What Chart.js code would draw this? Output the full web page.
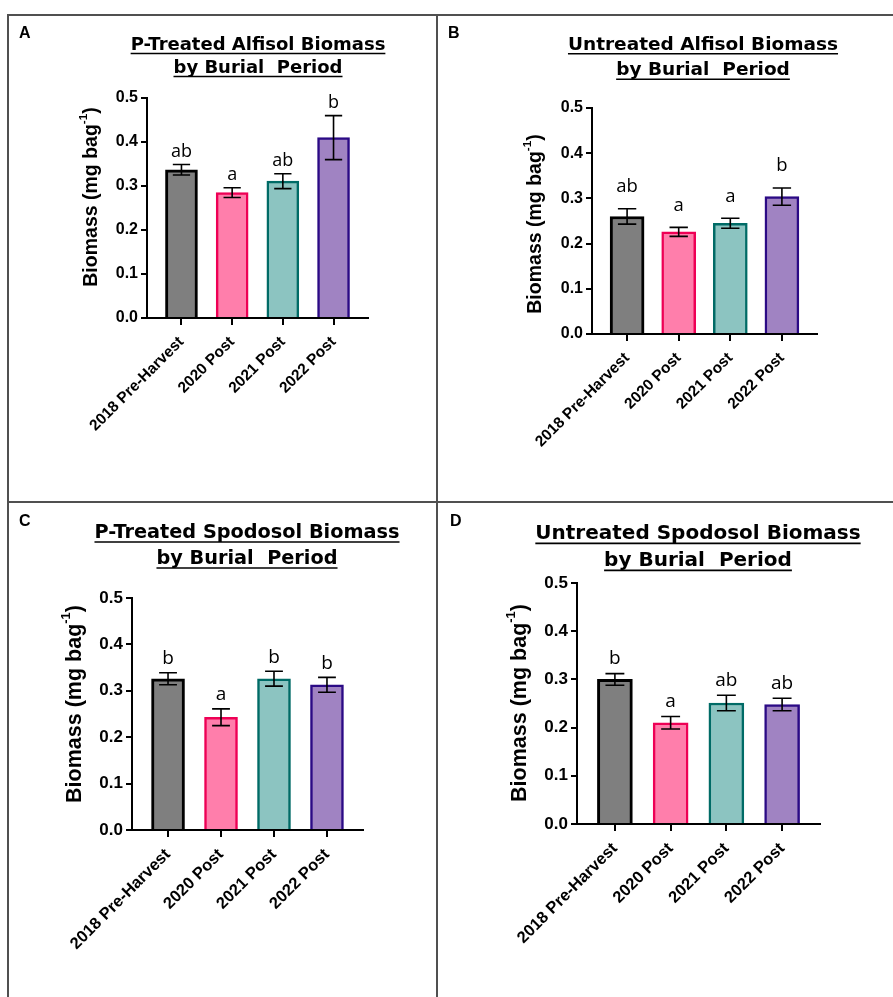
<!DOCTYPE html>
<html><head><meta charset="utf-8">
<script src="https://cdn.jsdelivr.net/npm/chart.js@4.4.0/dist/chart.umd.min.js"></script>
<style>
body{margin:0;background:#fff;width:893px;height:997px;position:relative;overflow:hidden}
canvas{position:absolute}
.ln{position:absolute;background:#505050}
</style></head><body>
<div class="ln" style="left:7px;top:14px;width:886px;height:2px"></div>
<div class="ln" style="left:7px;top:501px;width:886px;height:2px"></div>
<div class="ln" style="left:7px;top:14px;width:2px;height:983px"></div>
<div class="ln" style="left:436px;top:14px;width:2px;height:983px"></div>
<canvas id="cA"></canvas>
<canvas id="cB"></canvas>
<canvas id="cC"></canvas>
<canvas id="cD"></canvas>
<script>
// ---- data ----
const categories = ['2018 Pre-Harvest', '2020 Post', '2021 Post', '2022 Post'];
const yTicks = [0, 0.1, 0.2, 0.3, 0.4, 0.5];

const titleA = ['P-Treated Alfisol Biomass', 'by Burial  Period'];
const meanA = [0.337, 0.285, 0.311, 0.410];
const semA = [0.012, 0.011, 0.017, 0.050];
const lettersA = ['ab', 'a', 'ab', 'b'];

const titleB = ['Untreated Alfisol Biomass', 'by Burial  Period'];
const meanB = [0.260, 0.226, 0.245, 0.304];
const semB = [0.017, 0.010, 0.011, 0.019];
const lettersB = ['ab', 'a', 'a', 'b'];

const titleC = ['P-Treated Spodosol Biomass', 'by Burial  Period'];
const meanC = [0.326, 0.243, 0.326, 0.313];
const semC = [0.013, 0.018, 0.016, 0.016];
const lettersC = ['b', 'a', 'b', 'b'];

const titleD = ['Untreated Spodosol Biomass', 'by Burial  Period'];
const meanD = [0.300, 0.210, 0.251, 0.248];
const semD = [0.012, 0.013, 0.016, 0.013];
const lettersD = ['b', 'a', 'ab', 'ab'];

const yTitle = ['Biomass (mg bag', '-1', ')'];

// ---- styles ----
const fills = ['#7f7f7f', '#ff7eab', '#8cc4c1', '#a083c2'];
const borders = ['#000000', '#ee0055', '#006b66', '#2b0a85'];
const borderWidths = [3, 2.5, 2.5, 2.5];
const SANS = '"Liberation Sans", Arial, sans-serif';

const panels = [
  {id:'cA', tag:'A', title:titleA, mean:meanA, sem:semA, letters:lettersA,
   cv:{x:9,y:16,w:427,h:485}, area:{left:147,top:98,right:368,bottom:318}, bar:32,
   ttl:{cx:258,y1:45,y2:68,size:18}, lab:{x:19,y:38}, yt:{cx:92,cy:197,size:19.5},
   tick:16, xtick:15.5, let:{size:18,off:13}},
  {id:'cB', tag:'B', title:titleB, mean:meanB, sem:semB, letters:lettersB,
   cv:{x:438,y:16,w:455,h:485}, area:{left:592,top:108,right:817,bottom:334}, bar:34,
   ttl:{cx:703,y1:45,y2:70.5,size:18.5}, lab:{x:448,y:38}, yt:{cx:536,cy:224,size:19.5},
   tick:16, xtick:15.5, let:{size:18.5,off:22}},
  {id:'cC', tag:'C', title:titleC, mean:meanC, sem:semC, letters:lettersC,
   cv:{x:9,y:503,w:427,h:494}, area:{left:132,top:598,right:363,bottom:830}, bar:33,
   ttl:{cx:247,y1:533,y2:559,size:19.3}, lab:{x:19,y:526}, yt:{cx:75,cy:704,size:21.5},
   tick:17, xtick:16.5, let:{size:19,off:14}},
  {id:'cD', tag:'D', title:titleD, mean:meanD, sem:semD, letters:lettersD,
   cv:{x:438,y:503,w:455,h:494}, area:{left:577,top:583,right:820,bottom:824}, bar:35,
   ttl:{cx:698,y1:534,y2:561,size:20}, lab:{x:450,y:526}, yt:{cx:520,cy:703,size:21.5},
   tick:17, xtick:16.5, let:{size:19,off:15}}
];

const deco = {
  id: 'deco',
  afterDatasetsDraw(chart, args, opts) {
    const p = opts.panel;
    const ctx = chart.ctx;
    const ys = chart.scales.y;
    const meta = chart.getDatasetMeta(0);
    const ox = p.cv.x, oy = p.cv.y;
    ctx.save();
    // error bars
    ctx.strokeStyle = '#000';
    ctx.lineWidth = 1.6;
    const cap = p.bar * 0.27;
    meta.data.forEach((el, i) => {
      const x = el.x;
      const yt = ys.getPixelForValue(p.mean[i] + p.sem[i]);
      const yb = ys.getPixelForValue(p.mean[i] - p.sem[i]);
      ctx.beginPath();
      ctx.moveTo(x, yt); ctx.lineTo(x, yb);
      ctx.moveTo(x - cap, yt); ctx.lineTo(x + cap, yt);
      ctx.moveTo(x - cap, yb); ctx.lineTo(x + cap, yb);
      ctx.stroke();
      // letters
      ctx.fillStyle = '#000';
      ctx.font = p.let.size + 'px "Open Sans", sans-serif';
      ctx.textAlign = 'center';
      ctx.textBaseline = 'middle';
      ctx.fillText(p.letters[i], x, yt - p.let.off);
    });
    // title
    ctx.fillStyle = '#000';
    ctx.font = 'bold ' + p.ttl.size + 'px "DejaVu Sans", sans-serif';
    ctx.textAlign = 'center';
    ctx.textBaseline = 'middle';
    [p.ttl.y1, p.ttl.y2].forEach((y, k) => {
      const t = p.title[k];
      const cx = p.ttl.cx - ox, cy = y - oy;
      ctx.fillText(t, cx, cy);
      const w = ctx.measureText(t).width;
      ctx.beginPath();
      ctx.lineWidth = 1.6;
      ctx.moveTo(cx - w / 2, cy + p.ttl.size * 0.47);
      ctx.lineTo(cx + w / 2, cy + p.ttl.size * 0.47);
      ctx.stroke();
    });
    // panel tag
    ctx.textAlign = 'left';
    ctx.textBaseline = 'alphabetic';
    ctx.font = 'bold 16px ' + SANS;
    ctx.fillText(p.tag, p.lab.x - ox, p.lab.y - oy);
    // y title with superscript
    ctx.translate(p.yt.cx - ox, p.yt.cy - oy);
    ctx.rotate(-Math.PI / 2);
    const f1 = 'bold ' + p.yt.size + 'px ' + SANS;
    const f2 = 'bold ' + (p.yt.size * 0.6) + 'px ' + SANS;
    ctx.font = f1; const w1 = ctx.measureText(yTitle[0]).width; const w3 = ctx.measureText(yTitle[2]).width;
    ctx.font = f2; const w2 = ctx.measureText(yTitle[1]).width;
    let sx = -(w1 + w2 + w3) / 2;
    ctx.textBaseline = 'middle';
    ctx.font = f1; ctx.fillText(yTitle[0], sx, 0); sx += w1;
    ctx.font = f2; ctx.fillText(yTitle[1], sx, -p.yt.size * 0.42); sx += w2;
    ctx.font = f1; ctx.fillText(yTitle[2], sx, 0);
    ctx.restore();
  }
};

panels.forEach(p => {
  const cv = document.getElementById(p.id);
  cv.width = p.cv.w; cv.height = p.cv.h;
  cv.style.left = p.cv.x + 'px'; cv.style.top = p.cv.y + 'px';
  cv.style.width = p.cv.w + 'px'; cv.style.height = p.cv.h + 'px';
  new Chart(cv, {
    type: 'bar',
    data: {
      datasets: [{
        data: p.mean.map((v, i) => ({x: i, y: v})),
        backgroundColor: fills,
        borderColor: borders,
        borderWidth: borderWidths,
        barThickness: p.bar,
        borderSkipped: 'start'
      }]
    },
    options: {
      responsive: false,
      devicePixelRatio: 1,
      animation: false,
      events: [],
      layout: {padding: {left: 0, top: p.area.top - p.cv.y, right: p.cv.x + p.cv.w - p.area.right, bottom: 0}},
      plugins: {legend: {display: false}, tooltip: {enabled: false}, deco: {panel: p}},
      scales: {
        x: {
          type: 'linear', min: -0.68, max: 3.68, offset: false,
          afterFit: s => { s.height = p.cv.y + p.cv.h - p.area.bottom; },
          afterBuildTicks: s => { s.ticks = categories.map((c, i) => ({value: i})); },
          border: {display: true, color: '#000', width: 2},
          grid: {offset: false, drawOnChartArea: false, drawTicks: true, tickLength: 7, color: '#000', lineWidth: 2},
          ticks: {
            autoSkip: false, maxRotation: 45, minRotation: 45, padding: 8, color: '#000',
            font: {family: SANS, weight: 'bold', size: p.xtick},
            callback: v => categories[v]
          }
        },
        y: {
          min: 0, max: 0.5,
          afterFit: s => { s.width = p.area.left - p.cv.x; },
          afterBuildTicks: s => { s.ticks = yTicks.map(v => ({value: v})); },
          border: {display: true, color: '#000', width: 2},
          grid: {drawOnChartArea: false, drawTicks: true, tickLength: 6, color: '#000', lineWidth: 2},
          ticks: {
            padding: 3, color: '#000',
            font: {family: SANS, weight: 'bold', size: p.tick},
            callback: v => v.toFixed(1)
          }
        }
      }
    },
    plugins: [deco]
  });
});
</script>
</body></html>
